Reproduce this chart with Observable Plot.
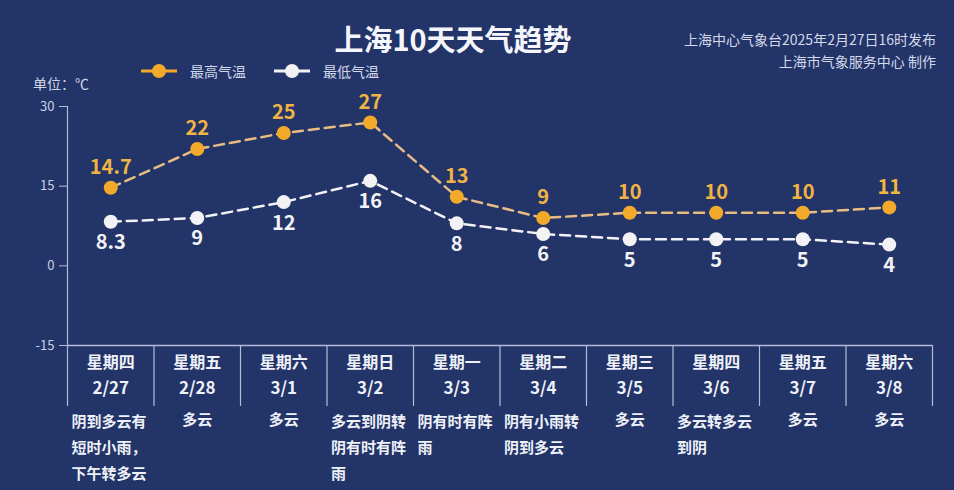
<!DOCTYPE html>
<html>
<head>
<meta charset="utf-8">
<script src="https://cdn.jsdelivr.net/npm/d3@7"></script>
<script src="https://cdn.jsdelivr.net/npm/@observablehq/plot@0.6"></script>
<style>
  html, body { margin: 0; padding: 0; background: #233468; }
  #wrap { position: relative; width: 954px; height: 490px; background: #233468; overflow: hidden;
          font-family: "Noto Sans CJK SC", "Noto Sans", sans-serif; }
  .abs { position: absolute; white-space: nowrap; }
  #chart { position: absolute; left: 0; top: 0; }
</style>
</head>
<body>
<div id="wrap">
  <div id="chart"></div>
  <div class="abs" id="title" style="left:453px;top:22px;line-height:32px;font-size:29px;font-weight:bold;color:#f4f6fb;transform:translateX(-50%);"></div>
  <div class="abs" id="src" style="right:18px;top:28px;line-height:22px;font-size:14px;color:#d3d9ea;text-align:right;"></div>
  <div class="abs" id="unit" style="left:33px;top:74px;line-height:18px;font-size:14px;color:#cfd5e6;"></div>
  <div class="abs" id="legend" style="left:141px;top:62px;line-height:18px;font-size:14px;color:#d3d9ea;"></div>
</div>
<script>
// ---- data ----
const titleText = "上海10天天气趋势";
const sourceLines = ["上海中心气象台2025年2月27日16时发布", "上海市气象服务中心 制作"];
const unitText = "单位：℃";
const seriesNames = ["最高气温", "最低气温"];
const weekdays = ["星期四","星期五","星期六","星期日","星期一","星期二","星期三","星期四","星期五","星期六"];
const dates = ["2/27","2/28","3/1","3/2","3/3","3/4","3/5","3/6","3/7","3/8"];
const weather = ["阴到多云有短时小雨，下午转多云","多云","多云","多云到阴转阴有时有阵雨","阴有时有阵雨","阴有小雨转阴到多云","多云","多云转多云到阴","多云","多云"];
const highs = [14.7, 22, 25, 27, 13, 9, 10, 10, 10, 11];
const lows = [8.3, 9, 12, 16, 8, 6, 5, 5, 5, 4];
const yTicks = [-15, 0, 15, 30];

// ---- styles ----
const orange = "#f3aa2a";
const orangeLine = "#e8bd84";
const orangeText = "#f0b444";
const white = "#f3f3f5";
const axisColor = "#b4bdd5";
const tickText = "#c9d0e4";
const font = "\"Noto Sans CJK SC\", \"Noto Sans\", sans-serif";

function chunk(s, n) {
  const chars = Array.from(s), out = [];
  for (let i = 0; i < chars.length; i += n) out.push(chars.slice(i, i + n).join(""));
  return out;
}

const rows = weekdays.map((d, i) => ({
  i, day: d, date: dates[i], desc: weather[i], lines: chunk(weather[i], 5),
  high: highs[i], low: lows[i]
}));
const xc = d => d.i + 0.5;

document.getElementById("title").textContent = titleText;
document.getElementById("src").innerHTML = sourceLines.join("<br>");
document.getElementById("unit").textContent = unitText;
const marker = (c) => `<svg width="36" height="16" style="vertical-align:middle"><line x1="0" y1="8" x2="36" y2="8" stroke="${c}" stroke-width="3"/><circle cx="18" cy="8" r="7" fill="${c}"/></svg>`;
document.getElementById("legend").innerHTML =
  `<span style="display:inline-flex;align-items:center">${marker(orange)}<span style="margin-left:13px">${seriesNames[0]}</span></span>` +
  `<span style="display:inline-flex;align-items:center;margin-left:28px">${marker(white)}<span style="margin-left:13px">${seriesNames[1]}</span></span>`;

const chart = Plot.plot({
  width: 954,
  height: 490,
  marginTop: 106,
  marginBottom: 145,
  marginLeft: 67,
  marginRight: 22,
  style: { background: "transparent", color: tickText, fontFamily: font, overflow: "visible" },
  x: { domain: [0, 10], axis: null },
  y: { domain: [-15, 30], axis: null },
  marks: [
    Plot.ruleX([0], { stroke: axisColor, strokeWidth: 1.2 }),
    Plot.ruleY([-15], { stroke: axisColor, strokeWidth: 1.5 }),
    Plot.axisY({ ticks: yTicks, tickSize: 8, tickPadding: 5, fontSize: 13, tickFormat: d => String(d), stroke: axisColor, fill: tickText, strokeOpacity: 1 }),
    Plot.axisX({ ticks: d3.range(11), tickSize: 61, tickFormat: () => "", stroke: axisColor, strokeOpacity: 1, strokeWidth: 1.2 }),
    Plot.line(rows, { x: xc, y: "high", stroke: orangeLine, strokeWidth: 2.5, strokeDasharray: "10,6" }),
    Plot.line(rows, { x: xc, y: "low", stroke: white, strokeWidth: 2.5, strokeDasharray: "10,6" }),
    Plot.dot(rows, { x: xc, y: "high", r: 7, fill: orange }),
    Plot.dot(rows, { x: xc, y: "low", r: 7, fill: white }),
    Plot.text(rows, { x: xc, y: "high", text: d => String(d.high), dy: -20, fontSize: 20, fontWeight: "bold", fill: orangeText }),
    Plot.text(rows, { x: xc, y: "low", text: d => String(d.low), dy: 21, fontSize: 20, fontWeight: "bold", fill: white }),
    Plot.text(rows, { x: xc, text: "day", frameAnchor: "bottom", dy: 22, fontSize: 16, fontWeight: "bold", fill: "#eef1f8" }),
    Plot.text(rows, { x: xc, text: "date", frameAnchor: "bottom", dy: 48, fontSize: 17, fontWeight: "bold", fill: "#eef1f8" }),
    Plot.text(rows.filter(d => d.lines.length === 1), { x: xc, text: "desc", frameAnchor: "bottom", dy: 79, fontSize: 15, fontWeight: "bold", fill: "#eef1f8" }),
    Plot.text(rows.filter(d => d.lines.length > 1), { x: d => d.i, dx: 4, text: d => d.lines.join("\n"), textAnchor: "start", lineAnchor: "top", lineHeight: 26 / 15, frameAnchor: "bottom", dy: 63, fontSize: 15, fontWeight: "bold", fill: "#eef1f8" })
  ]
});
document.getElementById("chart").appendChild(chart);
</script>
</body>
</html>
